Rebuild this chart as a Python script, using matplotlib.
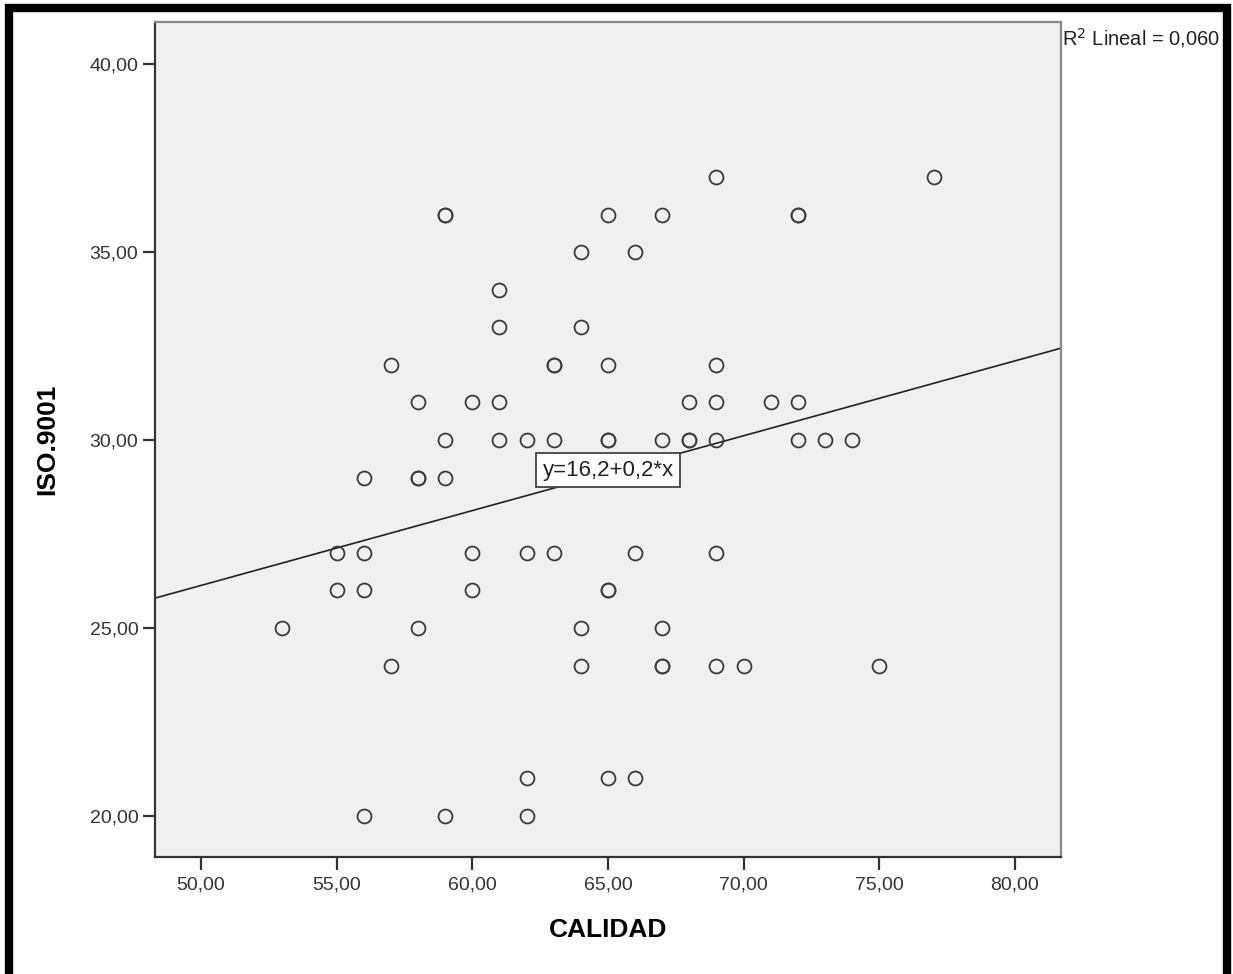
import numpy as np
import matplotlib
matplotlib.use("Agg")
import matplotlib.pyplot as plt
from matplotlib.patches import Rectangle

plt.rcParams['font.family'] = ['Liberation Sans', 'DejaVu Sans']

# CALIDAD / ISO.9001 pairs (repeated pairs listed twice)
calidad = [69, 77,
           59, 59, 65, 67, 72, 72,
           64, 66,
           61,
           61, 64,
           57, 63, 63, 65, 69,
           58, 60, 61, 68, 69, 71, 72,
           59, 61, 62, 63, 65, 65, 67, 68, 68, 69, 72, 73, 74,
           56, 58, 58, 59,
           55, 56, 60, 62, 63, 66, 69,
           55, 56, 60, 65, 65,
           53, 58, 64, 67,
           57, 64, 67, 67, 69, 70, 75,
           62, 65, 66,
           56, 59, 62]
iso9001 = [37, 37,
           36, 36, 36, 36, 36, 36,
           35, 35,
           34,
           33, 33,
           32, 32, 32, 32, 32,
           31, 31, 31, 31, 31, 31, 31,
           30, 30, 30, 30, 30, 30, 30, 30, 30, 30, 30, 30, 30,
           29, 29, 29, 29,
           27, 27, 27, 27, 27, 27, 27,
           26, 26, 26, 26, 26,
           25, 25, 25, 25,
           24, 24, 24, 24, 24, 24, 24,
           21, 21, 21,
           20, 20, 20]

x_ticks = [50, 55, 60, 65, 70, 75, 80]
x_tick_labels = ["50,00", "55,00", "60,00", "65,00", "70,00", "75,00", "80,00"]
y_ticks = [20, 25, 30, 35, 40]
y_tick_labels = ["20,00", "25,00", "30,00", "35,00", "40,00"]

fig = plt.figure(figsize=(12.33, 9.74), dpi=100)
ax = fig.add_axes([0.1257, 0.1201, 0.7348, 0.8573])
ax.set_facecolor("#f0f0f0")

ax.plot(calidad, iso9001, 'o', markersize=10, markerfacecolor='none',
        markeredgecolor='#3a3a3a', markeredgewidth=1.3, zorder=3)

xlim = (48.3, 81.7)
ax.set_xlim(xlim)
ax.set_ylim(18.91, 41.12)

slope, intercept = np.polyfit(calidad, iso9001, 1)
xs = np.array(xlim)
ax.plot(xs, intercept + slope * xs, color='#222222', linewidth=1.2, zorder=2)

ax.text(65.0, 29.2, "y=16,2+0,2*x", fontsize=16, ha='center', va='center',
        color='#222222', zorder=4,
        bbox=dict(boxstyle='square,pad=0.3', facecolor='white', edgecolor='#444444', linewidth=1.3))

ax.set_xticks(x_ticks)
ax.set_xticklabels(x_tick_labels)
ax.set_yticks(y_ticks)
ax.set_yticklabels(y_tick_labels)
ax.tick_params(direction='out', length=9, width=1.6, color='#333333',
               labelsize=14, labelcolor='#333333', pad=3)
ax.tick_params(axis='x', pad=5)

for side in ['left', 'bottom']:
    ax.spines[side].set_color('#333333')
    ax.spines[side].set_linewidth(1.6)
for side in ['top', 'right']:
    ax.spines[side].set_color('#888888')
    ax.spines[side].set_linewidth(1.6)

ax.set_xlabel("CALIDAD", fontsize=19, fontweight='bold', labelpad=18)
ax.set_ylabel("ISO.9001", fontsize=19, fontweight='bold', labelpad=22)

fig.text(1062 / 1233, 1 - 38 / 974, "R$^2$ Lineal = 0,060", fontsize=14.5,
         ha='left', va='center', color='#222222')

# thick black frame around the picture
fig.patches.append(Rectangle((9 / 1233, 1 - 976 / 974), (1227 - 9) / 1233, (976 - 8) / 974,
                             transform=fig.transFigure, fill=False,
                             edgecolor='black', linewidth=6, zorder=10))

fig.savefig("out.png", dpi=100)
